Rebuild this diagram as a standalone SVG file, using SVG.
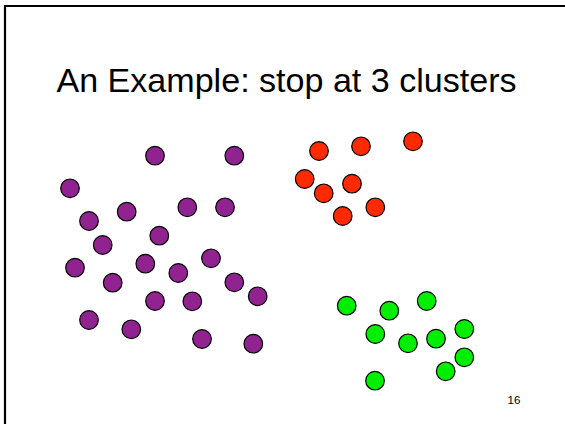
<svg xmlns="http://www.w3.org/2000/svg" width="565" height="424" viewBox="0 0 565 424">
<style>
.p{fill:#912391;stroke:#000;stroke-width:1.2}
.r{fill:#ff2a00;stroke:#000;stroke-width:1.2}
.g{fill:#00ee00;stroke:#000;stroke-width:1.2}
text{font-family:"Liberation Sans",Arial,sans-serif;fill:#000}
</style>
<rect width="565" height="424" fill="#fff"/>
<path d="M5,6 H565 M5,5 V424" stroke="#000" stroke-width="2.2" fill="none"/>
<text x="56.5" y="92.3" font-size="34" textLength="460" lengthAdjust="spacingAndGlyphs">An Example: stop at 3 clusters</text>
<text x="507.5" y="404" font-size="11.5">16</text>
<g id="purple">
<circle class="p" cx="155" cy="155.7" r="9.3"/>
<circle class="p" cx="234.3" cy="155.7" r="9.3"/>
<circle class="p" cx="70" cy="188.3" r="9.3"/>
<circle class="p" cx="126.7" cy="211.7" r="9.3"/>
<circle class="p" cx="187.3" cy="207.3" r="9.3"/>
<circle class="p" cx="225" cy="207.3" r="9.3"/>
<circle class="p" cx="89" cy="221" r="9.3"/>
<circle class="p" cx="159.3" cy="235.7" r="9.3"/>
<circle class="p" cx="102.7" cy="245" r="9.3"/>
<circle class="p" cx="75" cy="267.7" r="9.3"/>
<circle class="p" cx="145.3" cy="263.7" r="9.3"/>
<circle class="p" cx="211" cy="258.3" r="9.3"/>
<circle class="p" cx="178.3" cy="273" r="9.3"/>
<circle class="p" cx="112.7" cy="282.7" r="9.3"/>
<circle class="p" cx="234.3" cy="282.3" r="9.3"/>
<circle class="p" cx="257.7" cy="296.3" r="9.3"/>
<circle class="p" cx="155" cy="301" r="9.3"/>
<circle class="p" cx="192.3" cy="301.3" r="9.3"/>
<circle class="p" cx="89" cy="320" r="9.3"/>
<circle class="p" cx="131.3" cy="329.3" r="9.3"/>
<circle class="p" cx="202" cy="339" r="9.3"/>
<circle class="p" cx="253.3" cy="343.7" r="9.3"/>
</g>
<g id="red">
<circle class="r" cx="319" cy="151" r="9.3"/>
<circle class="r" cx="361" cy="146.3" r="9.3"/>
<circle class="r" cx="413" cy="141.3" r="9.3"/>
<circle class="r" cx="304.7" cy="179" r="9.3"/>
<circle class="r" cx="352" cy="183.7" r="9.3"/>
<circle class="r" cx="323.7" cy="193.3" r="9.3"/>
<circle class="r" cx="375.3" cy="207.3" r="9.3"/>
<circle class="r" cx="342.7" cy="216" r="9.3"/>
</g>
<g id="green">
<circle class="g" cx="346.7" cy="305.7" r="9.3"/>
<circle class="g" cx="389.3" cy="310.7" r="9.3"/>
<circle class="g" cx="426.7" cy="301" r="9.3"/>
<circle class="g" cx="375.3" cy="334" r="9.3"/>
<circle class="g" cx="408" cy="343.3" r="9.3"/>
<circle class="g" cx="436" cy="338.7" r="9.3"/>
<circle class="g" cx="464.3" cy="329" r="9.3"/>
<circle class="g" cx="464.3" cy="357.3" r="9.3"/>
<circle class="g" cx="445.7" cy="371.3" r="9.3"/>
<circle class="g" cx="375" cy="380.7" r="9.3"/>
</g>
</svg>
